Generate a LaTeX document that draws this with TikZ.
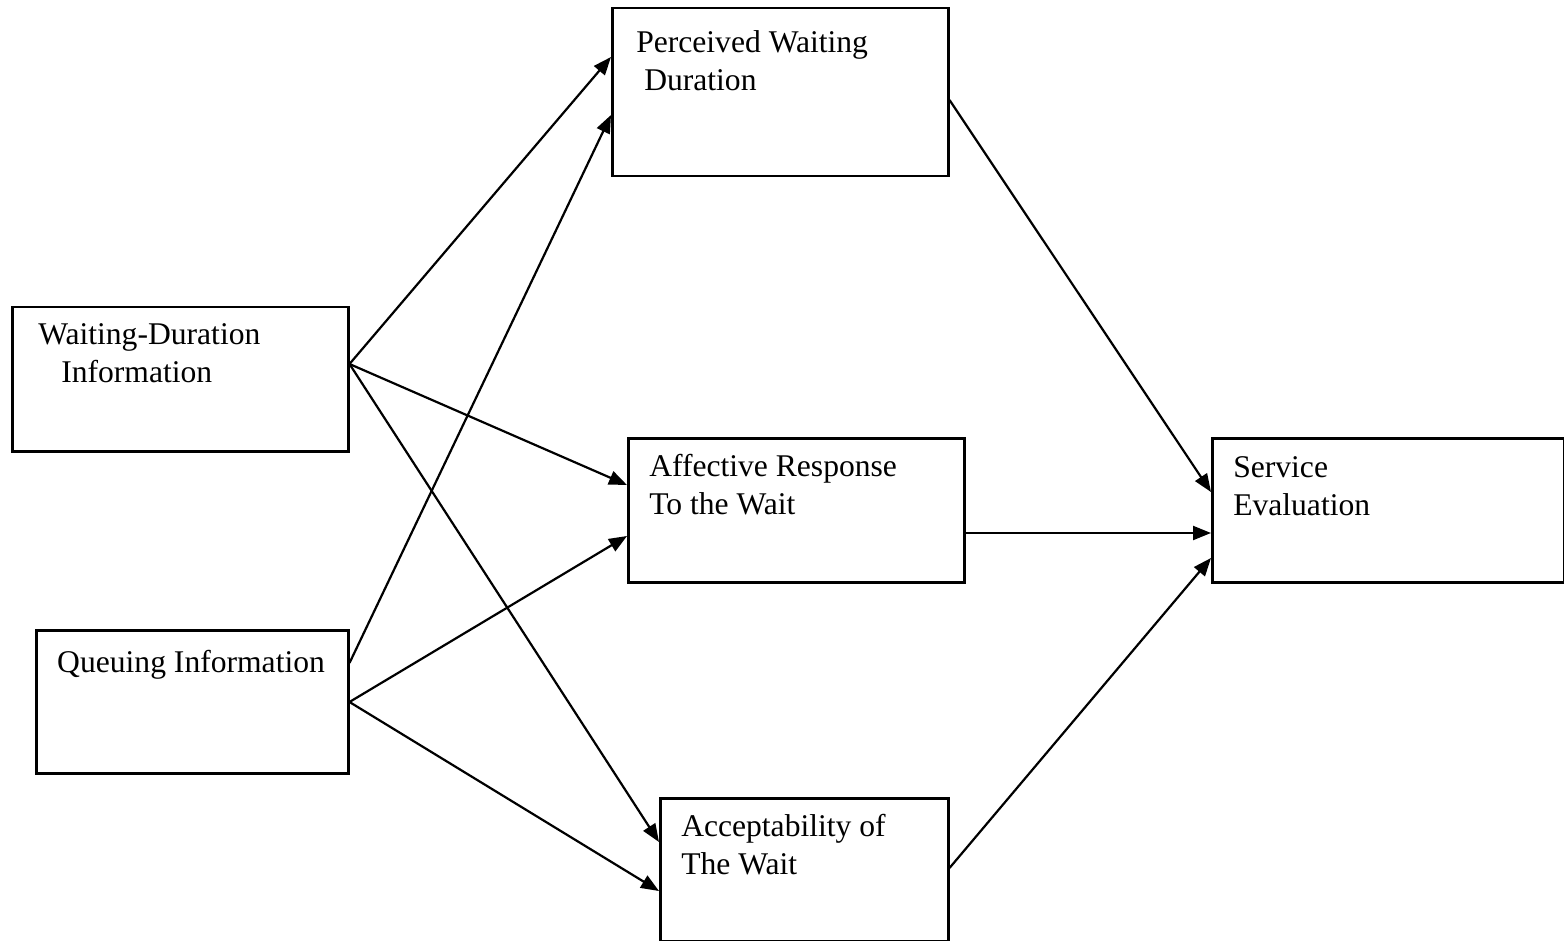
\documentclass[tikz,border=0pt]{standalone}
\usepackage{fontspec}
\setmainfont{Liberation Serif}
\usetikzlibrary{positioning,arrows.meta}

\begin{document}
\begin{tikzpicture}[
  box/.style={draw,line width=1.25pt,anchor=north west,inner xsep=10.5pt,inner ysep=8pt,
    font=\fontsize{15.8}{19}\selectfont},
  arr/.style={-{Triangle[length=9pt,width=7pt]},line width=1.1pt}]
  \useasboundingbox (0,0) rectangle (782pt,-470.5pt);
  \node[box] (wdi) at (5.5pt,-153pt)
    {\parbox[t][56pt][t]{147pt}{\hspace*{2.5pt}Waiting-Duration\\\hspace*{14pt}Information}};
  \node[box] (qi) at (17.5pt,-314.5pt)
    {\parbox[t][55.5pt][t]{135pt}{\vspace*{2pt}Queuing Information}};
  \node[box] (pwd) at (305.5pt,-3.5pt)
    {\parbox[t][68pt][t]{147pt}{\vspace*{3pt}\hspace*{1.5pt}Perceived Waiting\\\hspace*{5.5pt}Duration}};
  \node[box] (arw) at (313.5pt,-218.5pt)
    {\parbox[t][56pt][t]{147pt}{Affective Response\\To the Wait}};
  \node[box] (atw) at (329.5pt,-398.5pt)
    {\parbox[t][55.5pt][t]{123pt}{Acceptability of\\The Wait}};
  \node[box] (se) at (605.5pt,-218.5pt)
    {\parbox[t][56pt][t]{155pt}{\vspace*{1pt}Service\\Evaluation}};
  \draw[arr] ([yshift=-29pt]wdi.north east) -- ([yshift=-25pt]pwd.north west);
  \draw[arr] ([yshift=-29pt]wdi.north east) -- ([yshift=-24pt]arw.north west);
  \draw[arr] ([yshift=-29pt]wdi.north east) -- ([yshift=-22.5pt]atw.north west);
  \draw[arr] ([yshift=-17pt]qi.north east) -- ([yshift=-54pt]pwd.north west);
  \draw[arr] ([yshift=-36.5pt]qi.north east) -- ([yshift=-49.5pt]arw.north west);
  \draw[arr] ([yshift=-36.5pt]qi.north east) -- ([yshift=-47pt]atw.north west);
  \draw[arr] ([yshift=-46.5pt]pwd.north east) -- ([yshift=-27.5pt]se.north west);
  \draw[arr] ([yshift=-48pt]arw.north east) -- ([yshift=-48pt]se.north west);
  \draw[arr] ([yshift=-35.5pt]atw.north east) -- ([yshift=-60.5pt]se.north west);
\end{tikzpicture}
\end{document}
